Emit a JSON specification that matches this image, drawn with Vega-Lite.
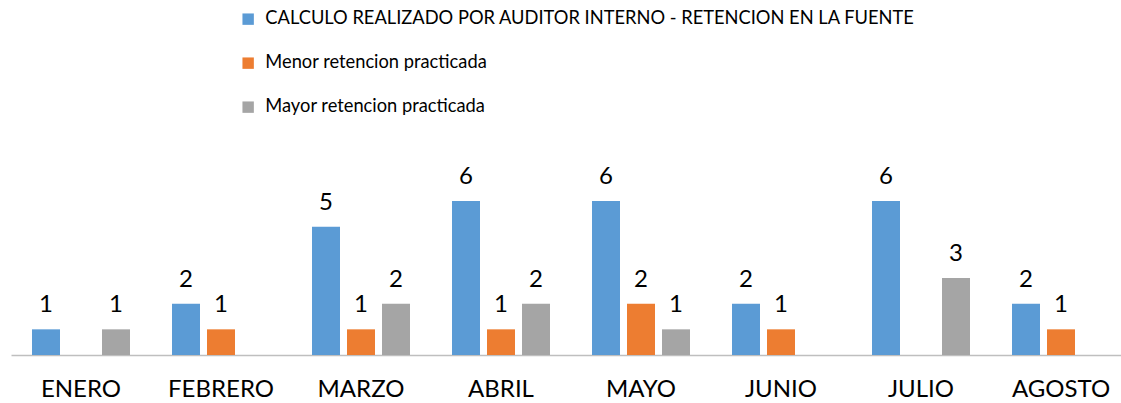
{
  "$schema": "https://vega.github.io/schema/vega-lite/v6.json",
  "width": 1120,
  "height": 355,
  "padding": {"left": 11, "top": 0, "right": 0, "bottom": 0},
  "config": {"view": {"stroke": null}, "font": "Lato"},
  "data": {"values": [
    {"mes": "ENERO", "serie": "CALCULO REALIZADO POR AUDITOR INTERNO - RETENCION EN LA FUENTE", "valor": 1},
    {"mes": "ENERO", "serie": "Mayor retencion practicada", "valor": 1},
    {"mes": "FEBRERO", "serie": "CALCULO REALIZADO POR AUDITOR INTERNO - RETENCION EN LA FUENTE", "valor": 2},
    {"mes": "FEBRERO", "serie": "Menor retencion practicada", "valor": 1},
    {"mes": "MARZO", "serie": "CALCULO REALIZADO POR AUDITOR INTERNO - RETENCION EN LA FUENTE", "valor": 5},
    {"mes": "MARZO", "serie": "Menor retencion practicada", "valor": 1},
    {"mes": "MARZO", "serie": "Mayor retencion practicada", "valor": 2},
    {"mes": "ABRIL", "serie": "CALCULO REALIZADO POR AUDITOR INTERNO - RETENCION EN LA FUENTE", "valor": 6},
    {"mes": "ABRIL", "serie": "Menor retencion practicada", "valor": 1},
    {"mes": "ABRIL", "serie": "Mayor retencion practicada", "valor": 2},
    {"mes": "MAYO", "serie": "CALCULO REALIZADO POR AUDITOR INTERNO - RETENCION EN LA FUENTE", "valor": 6},
    {"mes": "MAYO", "serie": "Menor retencion practicada", "valor": 2},
    {"mes": "MAYO", "serie": "Mayor retencion practicada", "valor": 1},
    {"mes": "JUNIO", "serie": "CALCULO REALIZADO POR AUDITOR INTERNO - RETENCION EN LA FUENTE", "valor": 2},
    {"mes": "JUNIO", "serie": "Menor retencion practicada", "valor": 1},
    {"mes": "JULIO", "serie": "CALCULO REALIZADO POR AUDITOR INTERNO - RETENCION EN LA FUENTE", "valor": 6},
    {"mes": "JULIO", "serie": "Mayor retencion practicada", "valor": 3},
    {"mes": "AGOSTO", "serie": "CALCULO REALIZADO POR AUDITOR INTERNO - RETENCION EN LA FUENTE", "valor": 2},
    {"mes": "AGOSTO", "serie": "Menor retencion practicada", "valor": 1}
  ]},
  "encoding": {
    "x": {
      "field": "mes", "type": "nominal",
      "sort": ["ENERO", "FEBRERO", "MARZO", "ABRIL", "MAYO", "JUNIO", "JULIO", "AGOSTO"],
      "scale": {"paddingInner": 0.3, "paddingOuter": 0.15},
      "axis": {"title": null, "labelAngle": 0, "ticks": false, "labelFontSize": 24, "labelColor": "#000000", "labelPadding": 22, "domainColor": "#bfbfbf", "domainWidth": 1.5}
    },
    "xOffset": {
      "field": "serie", "type": "nominal",
      "sort": ["CALCULO REALIZADO POR AUDITOR INTERNO - RETENCION EN LA FUENTE", "Menor retencion practicada", "Mayor retencion practicada"],
      "scale": {"domain": ["CALCULO REALIZADO POR AUDITOR INTERNO - RETENCION EN LA FUENTE", "Menor retencion practicada", "Mayor retencion practicada"], "paddingInner": 0.2, "paddingOuter": 0}
    },
    "y": {
      "field": "valor", "type": "quantitative",
      "scale": {"domain": [0, 13.83], "nice": false},
      "axis": null
    }
  },
  "layer": [
    {
      "mark": {"type": "bar"},
      "encoding": {
        "color": {
          "field": "serie", "type": "nominal",
          "scale": {"domain": ["CALCULO REALIZADO POR AUDITOR INTERNO - RETENCION EN LA FUENTE", "Menor retencion practicada", "Mayor retencion practicada"], "range": ["#5B9BD5", "#ED7D31", "#A5A5A5"]},
          "legend": {"title": null, "orient": "none", "legendX": 228, "legendY": 10, "direction": "vertical", "symbolType": "square", "symbolSize": 130, "symbolStrokeWidth": 0, "labelFontSize": 18.3, "labelColor": "#000000", "rowPadding": 25, "labelOffset": 8, "labelLimit": 800}
        }
      }
    },
    {
      "mark": {"type": "text", "baseline": "bottom", "dy": -12, "fontSize": 24, "color": "#000000"},
      "encoding": {"text": {"field": "valor", "type": "quantitative"}}
    }
  ]
}
